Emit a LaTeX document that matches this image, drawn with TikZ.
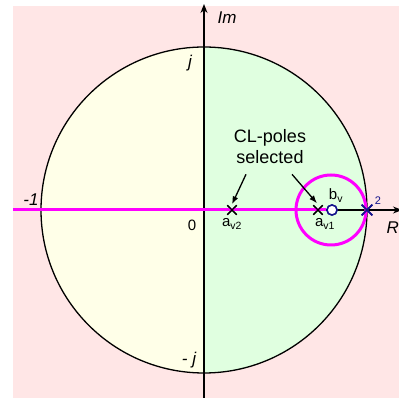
\documentclass[tikz,border=0pt]{standalone}
\usepackage{fontspec}
\setmainfont{Liberation Sans}
\usepackage{tikz}
\usetikzlibrary{arrows.meta,positioning,shapes.misc}

\definecolor{bgpink}{RGB}{255,230,230}
\definecolor{halfyellow}{RGB}{255,255,232}
\definecolor{halfgreen}{RGB}{224,255,224}
\definecolor{navyblue}{RGB}{20,20,140}
\definecolor{locusmag}{RGB}{255,0,255}

\begin{document}
\begin{tikzpicture}[x=1pt, y=1pt,
    axis/.style={draw=black, line width=1.3pt, -{Stealth[length=9pt,width=7pt]}},
    unitcircle/.style={draw=black, line width=1.3pt},
    locus/.style={draw=locusmag, line width=3pt},
    pole/.style={cross out, draw=black, line width=1.4pt, minimum size=8pt, inner sep=0pt},
    fixpole/.style={cross out, draw=navyblue, line width=1.6pt, minimum size=9pt, inner sep=0pt},
    zero/.style={circle, draw=navyblue, fill=white, line width=1.5pt, minimum size=10pt, inner sep=0pt},
    axlabel/.style={font=\fontsize{17}{20}\selectfont\itshape},
    ptlabel/.style={font=\fontsize{15}{17}\selectfont, inner sep=1pt},
    note/.style={font=\fontsize{18}{21}\selectfont, align=center, inner sep=0pt},
    pointer/.style={draw=black, line width=1.3pt, -{Latex[length=8pt,width=6pt]}}
    ]
    \useasboundingbox (-204,-188) rectangle (195,210);
    \fill[bgpink] (-191,-188) rectangle (195,204);
    \fill[halfyellow] (0,-163) arc (-90:-270:163) -- cycle;
    \fill[halfgreen] (0,-163) arc (-90:90:163) -- cycle;
    \draw[unitcircle] (0,0) circle (163);

    \coordinate (origin) at (0,0);
    \coordinate (imtop) at (0,206);
    \coordinate (imbot) at (0,-188);
    \coordinate (releft) at (-191,0);
    \coordinate (reright) at (198,0);
    \draw[axis] (imbot) -- (imtop);
    \draw[axis] (origin) -- (reright);

    \node[pole] (av2) at (28,0) {};
    \node[pole] (av1) at (114,0) {};
    \node[zero] (bv) at (128,0) {};
    \node[fixpole] (kr) at (163,0) {};

    \draw[locus] (releft) -- (bv.west);
    \draw[locus] (127,0) circle (35);
    \node[pole] at (av2) {};
    \node[pole] at (av1) {};
    \node[zero] at (bv) {};
    \node[fixpole] at (kr) {};

    \node[axlabel, anchor=west] (imlbl) at (10,192) {Im};
    \node[axlabel, anchor=west] (relbl) at (179,-18) {Re};
    \node[axlabel] (jlbl) at (-14,147) {j};
    \node[axlabel] (mjlbl) at (-15,-150) {- j};
    \node[axlabel] (m1lbl) at (-173,10) {-1};
    \node[ptlabel] (zerolbl) at (-12,-15) {0};
    \node[font=\fontsize{11}{13}\selectfont, text=navyblue, inner sep=0pt] (twolbl) at (174,9) {2};

    \node[ptlabel, below=3pt of av2] (av2lbl) {a\textsubscript{v2}};
    \node[ptlabel, below=3pt of av1, xshift=7pt] (av1lbl) {a\textsubscript{v1}};
    \node[ptlabel, above=1pt of bv, xshift=4pt] (bvlbl) {b\textsubscript{v}};

    \node[note] (sel) at (66,63) {CL-poles\\selected};
    \draw[pointer] ([xshift=-24pt,yshift=-10pt]sel.south) -- ([yshift=1pt]av2.north);
    \draw[pointer] ([xshift=22pt,yshift=-10pt]sel.south) -- ([xshift=-1pt,yshift=2pt]av1.north);
  \end{tikzpicture}
\end{document}
